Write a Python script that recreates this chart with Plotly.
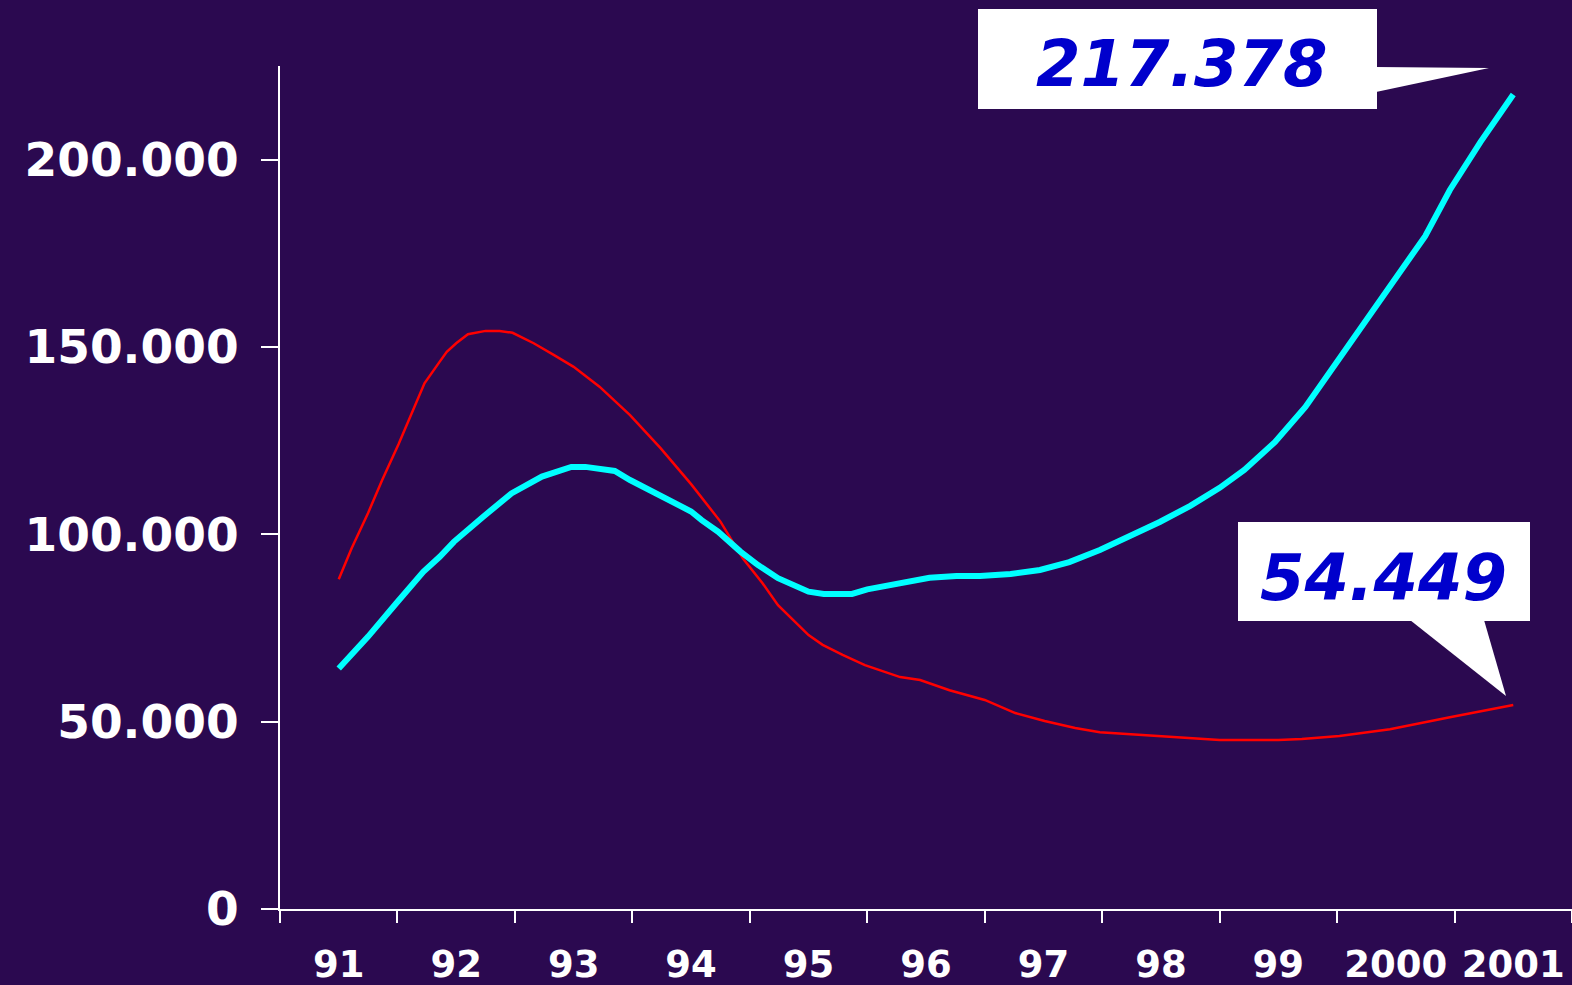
import plotly.graph_objects as go

# ---- data ----
years = ["91", "92", "93", "94", "95", "96", "97", "98", "99", "2000", "2001"]

red_x = [0.0, 0.11, 0.25, 0.37, 0.51, 0.61, 0.73, 0.86, 0.92, 1.0, 1.10, 1.25, 1.37, 1.48,
         1.66, 1.83, 2.0, 2.22, 2.48, 2.74, 3.0, 3.25, 3.44, 3.61, 3.74, 3.87, 4.0, 4.12,
         4.29, 4.48, 4.78, 4.95, 5.2, 5.5, 5.76, 6.01, 6.27, 6.48, 6.99, 7.5, 8.0, 8.2,
         8.52, 8.95, 9.46, 10.0]
red_y = [88000, 96300, 105700, 114500, 124100, 131400, 140300, 146100, 148700, 151000,
         153400, 154300, 154300, 153800, 151000, 147900, 144700, 139400, 131800, 123000,
         113400, 103400, 93600, 86900, 81100, 77100, 73100, 70500, 67800, 65100, 61900,
         61100, 58400, 55800, 52300, 50200, 48300, 47200, 46200, 45100, 45100, 45400,
         46200, 48000, 51200, 54449]

cyan_x = [0.0, 0.25, 0.49, 0.72, 0.86, 0.98, 1.23, 1.47, 1.73, 1.98, 2.10, 2.22, 2.35,
          2.48, 2.74, 3.0, 3.09, 3.23, 3.42, 3.57, 3.74, 4.0, 4.13, 4.37, 4.5, 4.75, 4.89,
          5.03, 5.26, 5.46, 5.72, 5.97, 6.22, 6.48, 6.74, 6.99, 7.25, 7.5, 7.71, 7.97,
          8.23, 8.48, 8.74, 8.99, 9.25, 9.46, 9.72, 10.0]
cyan_y = [64200, 72700, 81600, 90000, 94000, 98000, 104700, 110900, 115400, 118000,
          118000, 117300, 116900, 114500, 110200, 106100, 103800, 100700, 95400, 91800,
          88300, 84700, 84100, 84100, 85300, 86700, 87800, 88400, 88900, 88900, 89400,
          90500, 92600, 95800, 99600, 103300, 107600, 112400, 117200, 124600, 134000,
          145200, 156700, 168400, 179600, 191900, 204700, 217378]

y_ticks = [0, 50000, 100000, 150000, 200000]
y_labels = ["0", "50.000", "100.000", "150.000", "200.000"]

callout_labels = ["217.378", "54.449"]

# ---- layout geometry (pixels) ----
W, H = 1572, 985
L, R, T, B = 280, 0, 66, 76
pw, ph = W - L - R, H - T - B


def px(x, y):
    return (x - L) / pw, (H - B - y) / ph


BG = "#2B0950"
fig = go.Figure()
fig.add_trace(go.Scatter(x=red_x, y=red_y, mode="lines",
                         line=dict(color="#FF0000", width=2.5), hoverinfo="skip"))
fig.add_trace(go.Scatter(x=cyan_x, y=cyan_y, mode="lines",
                         line=dict(color="#00FFFF", width=6), hoverinfo="skip"))

shapes = []


def rect(x0, y0, x1, y1):
    a = px(x0, y1)
    b = px(x1, y0)
    shapes.append(dict(type="rect", xref="paper", yref="paper", x0=a[0], y0=a[1],
                       x1=b[0], y1=b[1], fillcolor="white", line=dict(width=0), layer="above"))


def poly(pts):
    p = [px(x, y) for x, y in pts]
    path = "M " + " L ".join(f"{a:.5f},{b:.5f}" for a, b in p) + " Z"
    shapes.append(dict(type="path", xref="paper", yref="paper", path=path,
                       fillcolor="white", line=dict(width=0), layer="above"))


rect(978, 9, 1377, 109)
poly([(1376, 67), (1489, 68), (1376, 92)])
rect(1238, 522, 1530, 621)
poly([(1410, 620), (1506, 696), (1484, 620)])

annotations = []
for lbl, (cx, cy) in zip(callout_labels, [(1182, 64), (1383, 578)]):
    ax_, ay_ = px(cx, cy)
    annotations.append(dict(xref="paper", yref="paper", x=ax_, y=ay_, text=lbl,
                            showarrow=False, xanchor="center", yanchor="middle",
                            font=dict(family="DejaVu Sans", size=64, color="#0000CC",
                                      weight="bold", style="italic")))

fig.update_layout(
    width=W, height=H,
    margin=dict(l=L, r=R, t=T, b=B, pad=0),
    paper_bgcolor=BG, plot_bgcolor=BG,
    showlegend=False,
    shapes=shapes,
    annotations=annotations,
    xaxis=dict(
        range=[-0.5, 10.5], tickmode="array", tickvals=list(range(len(years))),
        ticktext=years, showgrid=False, zeroline=False,
        showline=True, linecolor="white", linewidth=2,
        ticks="outside", ticklen=12, tickcolor="rgba(0,0,0,0)",
        minor=dict(tickmode="array", tickvals=[i - 0.5 for i in range(len(years) + 1)],
                   ticks="outside", ticklen=12, tickwidth=2, tickcolor="white", showgrid=False),
        tickfont=dict(family="DejaVu Sans", size=37, color="white", weight="bold"),
        ticklabelstandoff=10, automargin=False, fixedrange=True,
    ),
    yaxis=dict(
        range=[0, 225000], tickmode="array", tickvals=y_ticks, ticktext=y_labels,
        showgrid=False, zeroline=False, showline=True, linecolor="white", linewidth=2,
        ticks="outside", ticklen=17, tickwidth=2, tickcolor="white",
        tickfont=dict(family="DejaVu Sans", size=47, color="white", weight="bold"),
        ticklabelstandoff=13, automargin=False, fixedrange=True,
    ),
)

fig.write_html("out.html", config={"displayModeBar": False},
               post_script="document.body.style.margin='0';document.body.style.background='" + BG + "';")
